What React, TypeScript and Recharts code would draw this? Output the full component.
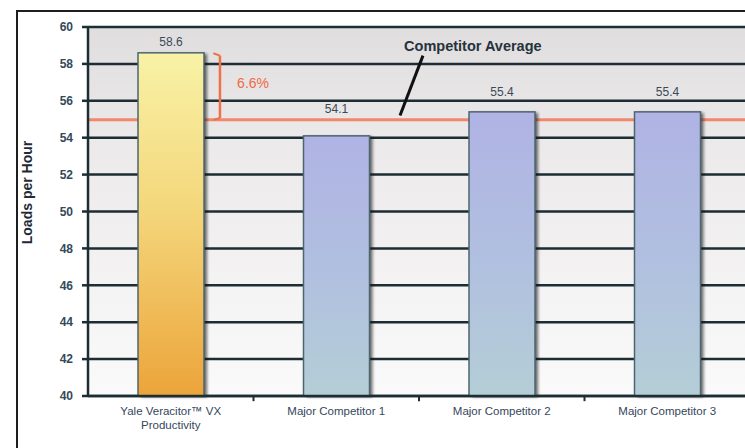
import React from 'react';
import {
  ComposedChart,
  Bar,
  Cell,
  XAxis,
  YAxis,
  CartesianGrid,
  ReferenceLine,
  ReferenceDot,
  LabelList,
} from 'recharts';

const categories = [
  'Yale Veracitor™ VX\nProductivity',
  'Major Competitor 1',
  'Major Competitor 2',
  'Major Competitor 3',
];
const loadsPerHour = [58.6, 54.1, 55.4, 55.4];
const yTicks = [40, 42, 44, 46, 48, 50, 52, 54, 56, 58, 60];
const competitorValues = loadsPerHour.slice(1);
const competitorAverage =
  competitorValues.reduce((a, b) => a + b, 0) / competitorValues.length;
const advantageLabel = '6.6%';

const data = categories.map((name, i) => ({ name, value: loadsPerHour[i] }));

const FONT = '"Liberation Sans", Arial, sans-serif';
// gap (px) between bar top and its value label, per bar
const LABEL_GAPS = [7, 23, 16, 16];
// annotation axis spans the plot width with domain [0, 3]
const ANN_MAX = 3;
const SLOT = ANN_MAX / categories.length;

const BarShape = (props: any) => {
  const { x, y, width, height, fill } = props;
  if (width == null || height == null) return null;
  return (
    <g>
      <rect
        x={x + 3}
        y={y + 1}
        width={width}
        height={height}
        fill="#111"
        opacity={0.6}
        filter="url(#barBlur)"
      />
      <rect x={x} y={y} width={width} height={height} fill={fill} stroke="#4c6670" strokeWidth={1.5} />
    </g>
  );
};

const ValueLabel = (props: any) => {
  const { x, y, width, value, index } = props;
  const gap = LABEL_GAPS[index] ?? 10;
  return (
    <text
      x={x + width / 2}
      y={y - gap}
      textAnchor="middle"
      fontFamily={FONT}
      fontSize={12}
      fill="#3a4a58"
    >
      {Number(value).toFixed(1)}
    </text>
  );
};

const XTick = (props: any) => {
  const { x, y, payload } = props;
  const lines = String(payload.value).split('\n');
  return (
    <text x={x} y={y} textAnchor="middle" fontFamily={FONT} fontSize={11.5} fill="#35465c">
      {lines.map((l, i) => (
        <tspan key={i} x={x} dy={i === 0 ? 11 : 14}>
          {l}
        </tspan>
      ))}
    </text>
  );
};

const YLabel = (props: any) => {
  const vb = props.viewBox || { x: 0, y: 27, width: 88, height: 369 };
  const cx = vb.x + 27;
  const cy = vb.y + vb.height / 2 - 19;
  return (
    <text
      x={cx}
      y={cy}
      transform={`rotate(-90 ${cx} ${cy})`}
      textAnchor="middle"
      dominantBaseline="central"
      fontFamily={FONT}
      fontWeight="bold"
      fontSize={14}
      fill="#1f2a36"
    >
      Loads per Hour
    </text>
  );
};

const TextLabel = (text: string, opts: any) => (props: any) => {
  const vb = props.viewBox || {};
  const cx = vb.cx != null ? vb.cx : vb.x + (vb.width || 0) / 2;
  const cy = vb.cy != null ? vb.cy : vb.y + (vb.height || 0) / 2;
  return (
    <text
      x={cx}
      y={cy}
      textAnchor="middle"
      dominantBaseline="central"
      fontFamily={FONT}
      {...opts}
    >
      {text}
    </text>
  );
};

export default function App() {
  return (
    <div
      style={{
        position: 'absolute',
        left: 0,
        top: 0,
        width: 745,
        height: 448,
        overflow: 'hidden',
        background: '#fff',
      }}
    >
      <div
        style={{
          position: 'absolute',
          left: 16,
          top: 10,
          width: 900,
          height: 900,
          border: '2.5px solid #1e1e1e',
        }}
      />
      <div style={{ position: 'absolute', left: 0, top: 0 }}>
        <ComposedChart
          width={760}
          height={448}
          data={data}
          margin={{ top: 27, right: 10, left: 0, bottom: 0 }}
          barCategoryGap={0}
        >
          <defs>
            <linearGradient id="plotBg" x1="0" y1="0" x2="0" y2="1">
              <stop offset="0%" stopColor="#dfdddd" />
              <stop offset="30%" stopColor="#ebe9e9" />
              <stop offset="100%" stopColor="#fbfafa" />
            </linearGradient>
            <linearGradient id="goldGrad" x1="0" y1="0" x2="0" y2="1">
              <stop offset="0%" stopColor="#f8f2a6" />
              <stop offset="45%" stopColor="#f4d77c" />
              <stop offset="100%" stopColor="#eca43a" />
            </linearGradient>
            <linearGradient id="blueGrad" x1="0" y1="0" x2="0" y2="1">
              <stop offset="0%" stopColor="#b0b3e4" />
              <stop offset="50%" stopColor="#b0bfe0" />
              <stop offset="100%" stopColor="#b4ced6" />
            </linearGradient>
            <filter id="barBlur" x="-20%" y="-5%" width="140%" height="110%">
              <feGaussianBlur stdDeviation="1.6" />
            </filter>
          </defs>
          <CartesianGrid
            vertical={false}
            stroke="#1d2d34"
            strokeWidth={2.5}
            fill="url(#plotBg)"
            strokeOpacity={1}
          />
          <XAxis
            dataKey="name"
            type="category"
            height={52}
            tickLine={false}
            axisLine={{ stroke: '#1d2d34', strokeWidth: 2.5 }}
            tick={<XTick />}
            interval={0}
          />
          <XAxis xAxisId="num" type="number" domain={[0, ANN_MAX]} hide allowDataOverflow />
          <YAxis
            type="number"
            domain={[40, 60]}
            ticks={yTicks}
            width={88}
            tickSize={6}
            tickMargin={9}
            interval={0}
            axisLine={{ stroke: '#1d2d34', strokeWidth: 2.5 }}
            tickLine={{ stroke: '#1d2d34', strokeWidth: 2.5 }}
            tick={{ fontFamily: FONT, fontSize: 12, fontWeight: 'bold', fill: '#34495a' }}
            label={{ content: <YLabel /> } as any}
          />
          <ReferenceLine
            y={competitorAverage}
            stroke="#f2876a"
            strokeWidth={3}
            ifOverflow="visible"
            {...({ zIndex: 100 } as any)}
          />
          <Bar dataKey="value" barSize={66} isAnimationActive={false} shape={<BarShape />}>
            {data.map((d, i) => (
              <Cell key={i} fill={i === 0 ? 'url(#goldGrad)' : 'url(#blueGrad)'} />
            ))}
            <LabelList dataKey="value" content={<ValueLabel />} />
          </Bar>
          {/* boundary ticks under x axis */}
          {[1, 2, 3].map((b) => (
            <ReferenceLine
              key={b}
              xAxisId="num"
              segment={[
                { x: b * SLOT, y: 40 },
                { x: b * SLOT, y: 39.72 },
              ]}
              stroke="#1d2d34"
              strokeWidth={2}
              ifOverflow="visible"
            />
          ))}
          {/* bracket showing advantage */}
          <ReferenceLine
            xAxisId="num"
            segment={[
              { x: 0.598, y: loadsPerHour[0] - 0.15 },
              { x: 0.598, y: competitorAverage + 0.1 },
            ]}
            stroke="#f0704a"
            strokeWidth={2.5}
            ifOverflow="visible"
          />
          <ReferenceLine
            xAxisId="num"
            segment={[
              { x: 0.568, y: loadsPerHour[0] - 0.02 },
              { x: 0.598, y: loadsPerHour[0] - 0.15 },
            ]}
            stroke="#f0704a"
            strokeWidth={2}
            ifOverflow="visible"
          />
          <ReferenceLine
            xAxisId="num"
            segment={[
              { x: 0.568, y: competitorAverage },
              { x: 0.598, y: competitorAverage + 0.1 },
            ]}
            stroke="#f0704a"
            strokeWidth={2}
            ifOverflow="visible"
          />
          <ReferenceDot
            xAxisId="num"
            x={0.748}
            y={56.97}
            r={0}
            fill="none"
            stroke="none"
            ifOverflow="visible"
            label={{
              content: TextLabel(advantageLabel, {
                fontSize: 14,
                fill: '#f06a44',
              }),
            } as any}
          />
          {/* competitor average annotation */}
          <ReferenceLine
            xAxisId="num"
            segment={[
              { x: 1.518, y: 58.45 },
              { x: 1.414, y: 55.2 },
            ]}
            stroke="#111"
            strokeWidth={3}
            ifOverflow="visible"
          />
          <ReferenceDot
            xAxisId="num"
            x={1.744}
            y={58.97}
            r={0}
            fill="none"
            stroke="none"
            ifOverflow="visible"
            label={{
              content: TextLabel('Competitor Average', {
                fontSize: 14.5,
                fontWeight: 'bold',
                fill: '#26323e',
              }),
            } as any}
          />
        </ComposedChart>
      </div>
    </div>
  );
}
